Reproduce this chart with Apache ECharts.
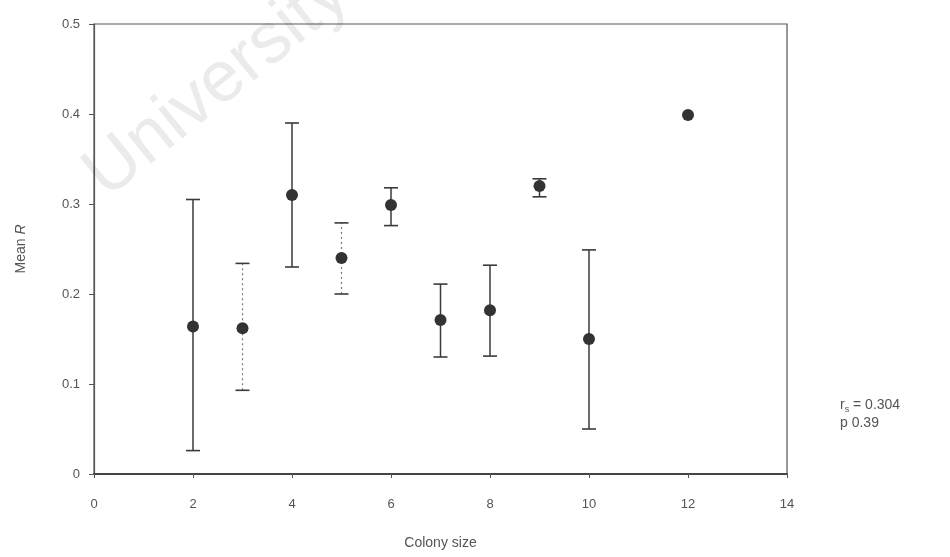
<!DOCTYPE html>
<html>
<head>
<meta charset="utf-8">
<script src="https://cdn.jsdelivr.net/npm/echarts@6/dist/echarts.min.js"></script>
<style>
  html, body { margin: 0; padding: 0; background: #fff; }
  #chart { width: 950px; height: 557px; }
</style>
</head>
<body>
<div id="chart"></div>
<script>
// Colony size on the x axis
const colonySize = [2, 3, 4, 5, 6, 7, 8, 9, 10, 12];
// Mean relatedness (R) per colony size
const meanR = [0.164, 0.162, 0.310, 0.240, 0.299, 0.171, 0.182, 0.320, 0.150, 0.399];
// Upper and lower ends of the error bars
const upperR = [0.305, 0.234, 0.390, 0.279, 0.318, 0.211, 0.232, 0.328, 0.249, null];
const lowerR = [0.026, 0.093, 0.230, 0.200, 0.276, 0.130, 0.131, 0.308, 0.050, null];
// Axis tick values
const xTicks = [0, 2, 4, 6, 8, 10, 12, 14];
const yTicks = [0, 0.1, 0.2, 0.3, 0.4, 0.5];

const ink = '#3a3a3a';
const textColor = '#555';
const font = '"Liberation Sans", Arial, sans-serif';
// bars printed faintly (dotted) in the figure
const faintBars = new Set([1, 3]);

const barData = colonySize.map((x, i) => [x, lowerR[i], upperR[i]]).filter(d => d[1] != null);

const chart = echarts.init(document.getElementById('chart'));
chart.setOption({
  animation: false,
  backgroundColor: '#fff',
  grid: {
    left: 94, right: 163, top: 24, bottom: 83,
    show: true, borderColor: '#555', borderWidth: 1.2
  },
  xAxis: {
    type: 'value',
    min: xTicks[0], max: xTicks[xTicks.length - 1], interval: 2,
    name: 'Colony size', nameLocation: 'middle', nameGap: 62,
    nameTextStyle: { color: textColor, fontFamily: font, fontSize: 14 },
    axisLine: { show: true, lineStyle: { color: '#444', width: 2 } },
    axisTick: { show: true, inside: false, length: 4, lineStyle: { color: '#555' } },
    axisLabel: { color: textColor, fontFamily: font, fontSize: 13, margin: 24 },
    splitLine: { show: false }
  },
  yAxis: {
    type: 'value',
    min: yTicks[0], max: yTicks[yTicks.length - 1], interval: 0.1,
    name: '{a|Mean }{b|R}', nameLocation: 'middle', nameGap: 66,
    nameTextStyle: {
      rich: {
        a: { color: textColor, fontFamily: font, fontSize: 14 },
        b: { color: textColor, fontFamily: font, fontSize: 14, fontStyle: 'italic' }
      }
    },
    axisLine: { show: true, lineStyle: { color: '#555', width: 1.2 } },
    axisTick: { show: true, inside: false, length: 5, lineStyle: { color: '#555' } },
    axisLabel: {
      color: textColor, fontFamily: font, fontSize: 13, margin: 14,
      formatter: v => (v === 0 ? '0' : v.toFixed(1))
    },
    splitLine: { show: false }
  },
  graphic: [
    {
      type: 'text', z: -1, silent: true,
      x: 117, y: 212, rotation: 0.68,
      style: {
        text: 'University',
        fill: '#ebebeb',
        font: '72px "Liberation Sans", Arial, sans-serif',
        textAlign: 'left', textVerticalAlign: 'bottom'
      }
    },
    {
      type: 'text', x: 840, y: 396, silent: true,
      style: {
        text: '{r|r}{s|s}{r| = 0.304}\n{r|p 0.39}',
        rich: {
          r: { fill: textColor, fontFamily: font, fontSize: 14, lineHeight: 18 },
          s: { fill: textColor, fontFamily: font, fontSize: 9, verticalAlign: 'bottom', lineHeight: 14 }
        }
      }
    }
  ],
  series: [
    {
      type: 'custom',
      data: barData,
      z: 2,
      renderItem: (params, api) => {
        const x = api.value(0);
        const lo = api.coord([x, api.value(1)]);
        const hi = api.coord([x, api.value(2)]);
        const half = 7;
        const faint = faintBars.has(params.dataIndex);
        const style = {
          stroke: faint ? '#777' : ink,
          lineWidth: faint ? 1.2 : 1.5,
          lineDash: faint ? [2, 3] : null
        };
        const cap = { stroke: ink, lineWidth: 1.6 };
        return {
          type: 'group',
          children: [
            { type: 'line', shape: { x1: lo[0], y1: lo[1], x2: hi[0], y2: hi[1] }, style },
            { type: 'line', shape: { x1: hi[0] - half, y1: hi[1], x2: hi[0] + half, y2: hi[1] }, style: cap },
            { type: 'line', shape: { x1: lo[0] - half, y1: lo[1], x2: lo[0] + half, y2: lo[1] }, style: cap }
          ]
        };
      }
    },
    {
      type: 'scatter',
      data: colonySize.map((x, i) => [x, meanR[i]]),
      symbol: 'circle',
      symbolSize: 12,
      z: 3,
      itemStyle: { color: '#333', opacity: 1 }
    }
  ]
});
</script>
</body>
</html>
